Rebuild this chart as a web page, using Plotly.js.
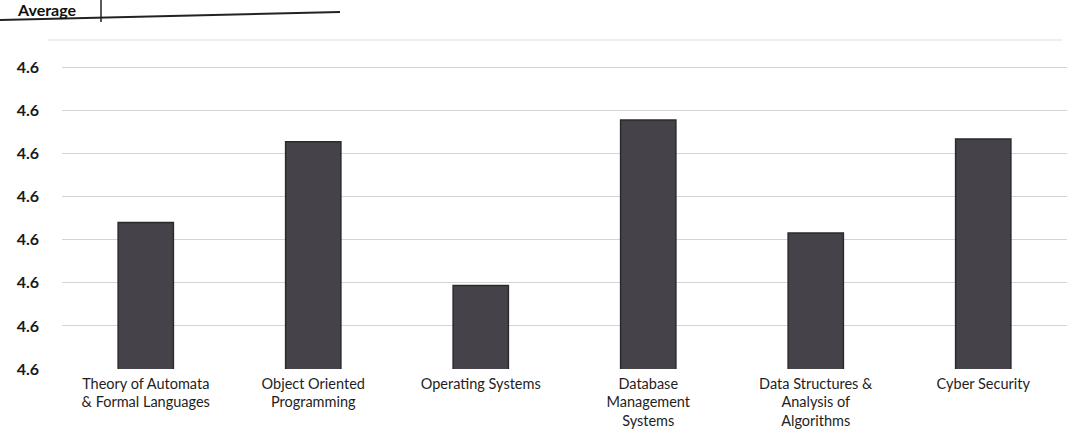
<!DOCTYPE html>
<html>
<head>
<meta charset="utf-8">
<script src="https://cdn.plot.ly/plotly-3.0.1.min.js"></script>
<style>
  html, body { margin: 0; padding: 0; background: #ffffff; }
  #chart { width: 1088px; height: 433px; }
</style>
</head>
<body>
<div id="chart"></div>
<script>
// Data (all y tick labels round to "4.6")
const categories = [
  "Theory of Automata<br>& Formal Languages",
  "Object Oriented<br>Programming",
  "Operating Systems",
  "Database<br>Management<br>Systems",
  "Data Structures &<br>Analysis of<br>Algorithms",
  "Cyber Security"
];
const averages = [4.5970, 4.6064, 4.5897, 4.6089, 4.5958, 4.6067];
const tickValues = [4.580, 4.585, 4.590, 4.595, 4.600, 4.605, 4.610, 4.615];
const headerText = "Average";

// Layout geometry
const W = 1088, H = 433;
const M = { l: 62, r: 21, t: 40, b: 64 };
const pw = W - M.l - M.r, ph = H - M.t - M.b;
const px = x => (x - M.l) / pw;
const py = y => (H - M.b - y) / ph;

const trace = {
  type: 'bar',
  x: categories,
  y: averages,
  marker: { color: '#46424a', line: { color: '#2c292e', width: 1.5 } },
  hoverinfo: 'x+y'
};

const layout = {
  width: W, height: H,
  margin: M,
  paper_bgcolor: '#ffffff',
  plot_bgcolor: '#ffffff',
  showlegend: false,
  bargap: 0.67,
  font: { family: 'Lato, "Open Sans", sans-serif', color: '#1e1e1e' },
  xaxis: {
    type: 'category',
    showgrid: false,
    zeroline: false,
    showline: false,
    ticks: '',
    tickfont: { size: 14.5, color: '#1e1e1e' },
    ticklabelstandoff: 4
  },
  yaxis: {
    range: [4.58, 4.6182],
    tickvals: tickValues,
    tickformat: '.1f',
    showgrid: true,
    gridcolor: '#d4d4d4',
    gridwidth: 1,
    zeroline: false,
    showline: false,
    ticks: '',
    ticklabelstandoff: 22,
    tickfont: { size: 16, color: '#1a1a1a', family: 'Lato, "Open Sans", sans-serif', weight: 'bold' }
  },
  shapes: [
    // chart area top border (faint)
    { type: 'line', xref: 'paper', yref: 'paper', x0: px(48), x1: px(1062), y0: py(40), y1: py(40),
      line: { color: '#dddddd', width: 1 } },
    // header rule
    { type: 'line', xref: 'paper', yref: 'paper', x0: px(0), x1: px(340), y0: py(20), y1: py(12),
      line: { color: '#222222', width: 2 } },
    { type: 'line', xref: 'paper', yref: 'paper', x0: px(101), x1: px(101), y0: py(0), y1: py(22),
      line: { color: '#222222', width: 1.5 } }
  ],
  annotations: [
    { xref: 'paper', yref: 'paper', x: px(78), y: py(9), xanchor: 'right', yanchor: 'middle',
      text: '<b>' + headerText + '</b>', showarrow: false,
      font: { size: 16, color: '#111111', family: 'Lato, "Open Sans", sans-serif' } }
  ]
};

Plotly.newPlot('chart', [trace], layout, { displayModeBar: false, staticPlot: true });
</script>
</body>
</html>
